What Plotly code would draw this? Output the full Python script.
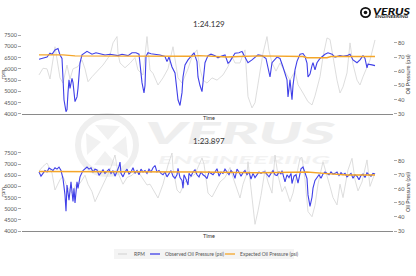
import base64
import plotly.graph_objects as go

# ---------------- data ----------------
# Lap 1 (1:24.129)
top_rpm_t = [0, 1, 2, 2.75, 4, 4.5, 5.25, 6, 7, 7.75, 8.5, 9.75, 10.75, 11.5, 12.25, 13.25, 14.5, 16, 17.75, 18.5,
             19.5, 19.75, 20.25, 21.5, 22.75, 24, 24.75, 26, 27, 27.75, 28.5, 29.75, 31, 32.25, 33.5, 34, 34.75, 35.75,
             37.25, 38.25, 39.5, 40.25, 41, 42, 43.25, 44.5, 46, 47.25, 48.25, 49, 50.25, 51, 51.5, 52.25, 53.25, 54,
             54.75, 55.25, 56, 57, 57.5, 58.25, 59.25, 60.25, 61.5, 62.75, 64, 64.75, 66, 67.25, 68.25, 69, 70.25, 71,
             72, 72.75, 73.5, 74.5, 75.25, 76, 77, 77.75, 78.5, 79.5, 80.25, 81, 82.75, 84]
top_rpm = [5730, 6025, 6000, 5550, 6980, 6390, 5600, 5370, 6170, 5550, 6000, 6100, 6390, 6000, 5430, 5650, 5875, 6170,
           6610, 7150, 7430, 6700, 6260, 6050, 6250, 6500, 5950, 5730, 7430, 5950, 5800, 5285, 5600, 6000, 6980, 6400,
           5600, 5370, 6000, 6540, 6840, 6000, 5500, 5370, 5600, 5500, 5730, 6100, 6540, 6260, 6260, 6640, 6840, 4770,
           4270, 4500, 5370, 5875, 6700, 7430, 6800, 6260, 5900, 6260, 5900, 5500, 5900, 5300, 4930, 4545, 4400, 4800,
           5650, 6540, 7370, 7300, 6540, 5500, 4930, 5200, 5820, 7150, 6200, 5500, 5285, 5650, 6390, 7280]

top_obs_t = [0, 1, 2, 2.75, 3.25, 4, 4.75, 5.25, 5.75, 6, 6.25, 6.75, 7, 7.25, 7.5, 7.75, 8.25, 8.5, 9, 9.5, 9.75,
             10.25, 10.75, 12, 12.75, 13.25, 14.25, 15.25, 16.5, 17.75, 19, 19.75, 20.75, 21.5, 22.25, 23.25, 24.25,
             25, 25.25, 25.75, 26.25, 26.5, 26.75, 27.25, 28, 29, 30.25, 31.5, 32, 32.5, 33.25, 34, 34.5, 34.75, 35.25,
             35.75, 36, 36.5, 37.25, 38.25, 38.75, 39.5, 39.75, 40.25, 40.75, 41, 41.5, 42.25, 43, 44, 44.75, 45.5,
             46.5, 47.25, 47.75, 49, 50, 50.75, 51.5, 52.25, 53.25, 54.75, 55.75, 56.75, 57.75, 58.25, 59.5, 60.25, 61,
             62, 62.25, 62.75, 63.25, 63.5, 64, 64.5, 65.25, 66, 66.5, 67, 67.25, 67.75, 68.25, 68.5, 69, 69.5, 70.25,
             71.5, 72.25, 73.25, 74, 75.25, 76, 77, 77.75, 78.5, 79.5, 80.25, 81, 81.5, 82, 82.25, 83.25, 84]
top_obs = [68.5, 69, 70, 72.7, 72, 75, 76, 71.5, 69, 55, 40, 31.6, 33, 45, 54, 48, 55, 52, 38.7, 42, 48,
           66, 71.5, 74, 72.5, 72, 73, 72.5, 71.5, 72, 71.5, 71, 72, 71.5, 71, 73, 73,
           72, 65.7, 52, 44.8, 50, 70.4, 73, 72.3, 72, 71.5, 70.4, 66.8, 70, 63, 58.8, 48, 40, 36,
           45, 56, 64.5, 68, 71.5, 73, 66.8, 56, 50, 45.7, 52, 66, 71, 72, 71, 69.5, 70.5,
           71.5, 65.7, 67, 72.7, 73, 74, 70.4, 66, 68, 71.5, 71, 69, 56, 66, 70, 69, 63,
           54, 42, 54, 40, 50, 61, 67, 72, 72.5, 70.4, 65.7, 56, 58, 64, 66, 61, 66, 69,
           72, 73, 72, 70, 71, 70.5, 71, 72, 68, 66, 68, 71, 69, 62.4, 65, 64.5, 64]

top_exp_t = [0, 6, 9, 26, 34, 38, 40, 44, 47, 50, 55, 66, 67, 72, 73, 84]
top_exp = [71.5, 71.5, 70.8, 70.8, 70.4, 70.6, 71.0, 70.6, 70.0, 70.4, 70.8, 70.4, 69.5, 69.5, 70.4, 70.4]

# Lap 2 (1:23.897)
bot_rpm_t = [0, 1, 2, 3.25, 4, 5.25, 6, 7, 8.25, 9.25, 10.25, 11.5, 12.25, 13.25, 14, 14.75, 16, 16.75, 17.75, 19,
             19.75, 21, 22, 23.25, 24.5, 25.75, 27, 27.75, 29, 29.75, 31, 32.25, 33.25, 33.5, 34.5, 35.25, 36.5, 37.75,
             39, 39.75, 40.75, 41.25, 42.25, 43.25, 44, 45.25, 46.5, 47.75, 48.5, 49.75, 50.25, 51, 52, 52.25, 53.25,
             53.5, 54, 54.75, 55.5, 56.5, 57.25, 58.25, 59, 59.75, 60.75, 61.5, 62.75, 63.5, 64.5, 65.25, 65.75, 66.5,
             67.25, 68.25, 69, 69.75, 71, 72, 72.75, 73.5, 74.5, 75.25, 76, 77.25, 78.25, 79, 79.75, 80.75, 82, 82.75, 84]
bot_rpm = [6690, 6900, 7050, 6600, 5840, 6300, 6450, 6000, 5700, 6100, 6140, 6500, 6100, 5765, 5315, 5600, 6050, 6400,
           6740, 7410, 6600, 6100, 6400, 6500, 6740, 6400, 6065, 6100, 5700, 5480, 6100, 6960, 7500, 6800, 5840, 5700,
           6200, 6400, 6550, 6830, 7280, 7000, 5700, 5525, 5800, 6200, 6400, 6850, 6400, 5700, 5480, 6100, 6600, 7110,
           5315, 4870, 4300, 4900, 5600, 6740, 6200, 5700, 7410, 6500, 5765, 6000, 5315, 5700, 6600, 7260, 7300, 6300,
           4870, 4640, 5150, 6100, 7110, 6400, 6000, 5500, 5170, 6100, 5500, 6740, 7260, 6300, 5800, 6200, 7190, 6000,
           6600]

bot_obs_t = [0, 0.5, 1, 1.5, 2, 2.5, 3, 3.5, 4, 4.5, 5, 5.5, 6, 6.5, 6.75, 7, 7.5, 8, 8.25, 8.5, 8.75, 9, 9.5,
             9.75, 10.25, 11, 12, 12.5, 13, 13.5, 14, 14.5, 15, 15.5, 16, 16.5, 17, 17.5, 18, 18.5, 19, 19.5, 20,
             20.25, 20.5, 21, 21.5, 22, 22.5, 23, 23.5, 24, 24.5, 25, 25.5, 26, 26.5, 27, 27.5, 28, 28.5, 29, 29.5,
             30, 30.5, 31, 31.5, 32, 32.5, 33, 33.5, 34, 34.5, 34.75, 35.25, 35.75, 36, 36.25, 36.75, 37.25, 37.5, 38,
             38.5, 39, 39.5, 40, 40.5, 41, 41.5, 42, 42.5, 43, 43.5, 44, 44.5, 45, 45.5, 46, 46.5, 47, 47.5, 48,
             48.5, 49, 49.5, 50, 50.5, 51, 51.5, 52, 52.5, 53, 53.5, 54, 54.5, 55, 55.5, 56, 56.5, 57, 57.5, 58,
             58.5, 59, 59.5, 60, 60.5, 60.75, 61.25, 61.5, 62, 62.5, 63, 63.25, 63.75, 64.25, 64.75, 65, 65.5, 66,
             66.5, 67, 67.25, 67.75, 68.25, 68.5, 69, 69.5, 70, 70.5, 71, 71.5, 72, 72.5, 73, 73.5, 74, 74.5, 75,
             75.5, 76, 76.5, 77, 77.5, 78, 78.5, 79, 79.5, 80, 80.5, 81, 81.5, 82, 82.5, 83, 83.5, 84]
bot_obs = [72, 69, 71, 73, 72, 74.8, 74, 73, 75, 74, 75.5, 73, 67.3, 55.7, 44, 62.7, 52, 65, 58, 51, 60.3, 50, 65,
           60.3, 68.5, 73, 75.5, 74, 75, 72, 74, 73.5, 69.6, 72, 73.5, 71, 72.5, 74, 71, 73, 69, 72, 76,
           79, 71, 68.5, 72, 74, 70.5, 72, 75, 71, 73, 70, 74, 72, 73, 71, 74, 72, 75, 76.6, 72,
           73, 71, 70, 72, 68.5, 71, 73, 69, 67.5, 70, 74.5, 68, 66, 60.5, 70, 67, 62.7, 71, 69,
           72, 73.5, 70, 68.5, 72, 70, 69, 67.3, 72, 71, 70, 72, 74.3, 69, 72, 71, 74, 72, 70, 73,
           71.5, 67.5, 74, 72, 69, 71.5, 73, 70, 72, 67, 71, 68, 70.5, 72, 71, 72, 72, 70, 68.5, 71,
           73, 70, 69.5, 72, 70.5, 73, 68, 65, 70, 68, 71, 63.8, 69, 70, 64, 68, 74.3, 75.5,
           72, 67.3, 55.7, 47.5, 54, 60.5, 66, 68, 70, 67.5, 70.5, 72, 71, 70, 72, 70.5, 71, 72, 69.5,
           71.5, 70, 71, 68.5, 70, 71, 67.5, 70, 69, 66.5, 69.5, 70.5, 68, 71.5, 70, 69, 71, 70.5]

bot_exp_t = [0, 20, 40, 55, 62, 67, 72, 77, 84]
bot_exp = [72.3, 72.3, 72.0, 71.4, 71.8, 72.0, 70.8, 69.8, 69.8]

rpm_ticks = [4000, 4500, 5000, 5500, 6000, 6500, 7000, 7500]
psi_ticks = [30, 40, 50, 60, 70, 80]
titles = ["1:24.129", "1:23.897"]
legend_labels = ["RPM", "Observed Oil Pressure (psi)", "Expected Oil Pressure (psi)"]

# ---------------- styles ----------------
FONT = "Lato"
C_RPM = "#d9d9d9"
C_OBS = "#4040e8"
C_EXP = "#f4a62a"
TICKC = "#555555"

fig = go.Figure()

def add_lap(xa, ya_l, ya_r, rpm_t, rpm, obs_t, obs, exp_t, exp):
    fig.add_trace(go.Scatter(x=rpm_t, y=rpm, mode="lines", line=dict(color=C_RPM, width=0.9),
                             xaxis=xa, yaxis=ya_l, showlegend=False, hoverinfo="skip"))
    fig.add_trace(go.Scatter(x=obs_t, y=obs, mode="lines", line=dict(color=C_OBS, width=1.1),
                             xaxis=xa, yaxis=ya_r, showlegend=False, hoverinfo="skip"))
    fig.add_trace(go.Scatter(x=exp_t, y=exp, mode="lines", line=dict(color=C_EXP, width=1.4),
                             xaxis=xa, yaxis=ya_r, showlegend=False, hoverinfo="skip"))

add_lap("x", "y", "y2", top_rpm_t, top_rpm, top_obs_t, top_obs, top_exp_t, top_exp)
add_lap("x2", "y3", "y4", bot_rpm_t, bot_rpm, bot_obs_t, bot_obs, bot_exp_t, bot_exp)

XR = [-4.25, 88.5]
xa = dict(range=XR, showticklabels=False, showline=True, linecolor="#8a8a8a", linewidth=1.3,
          ticks="", showgrid=False, zeroline=False, automargin=False)
yl = dict(range=[4000, 7500], tickvals=rpm_ticks, ticks="outside", ticklen=3, tickcolor="#aaaaaa", tickwidth=0.8,
          tickfont=dict(size=5.5, color=TICKC), showgrid=False, zeroline=False, showline=False, automargin=False,
          title=dict(text="rpm", font=dict(size=5.5, color="#333"), standoff=1))
yr = dict(range=[30, 85.5], tickvals=psi_ticks, ticks="outside", ticklen=3, tickcolor="#aaaaaa", tickwidth=0.8,
          tickfont=dict(size=5.5, color=TICKC), showgrid=False, zeroline=False, showline=False, side="right",
          automargin=False, title=dict(text="Oil Pressure (psi)", font=dict(size=5.5, color="#333"), standoff=1))

TOPD = [0.597, 1.0]
BOTD = [0.0, 0.398]
fig.update_layout(
    template="none",
    width=416, height=276, autosize=False,
    margin=dict(l=22, r=23, t=35, b=45),
    paper_bgcolor="white", plot_bgcolor="rgba(0,0,0,0)",
    font=dict(family=FONT, color="#444"),
    showlegend=False,
    xaxis=dict(xa, domain=[0, 1], anchor="y"),
    yaxis=dict(yl, domain=TOPD, anchor="x"),
    yaxis2=dict(yr, domain=TOPD, anchor="x", overlaying="y"),
    xaxis2=dict(xa, domain=[0, 1], anchor="y3"),
    yaxis3=dict(yl, domain=BOTD, anchor="x2"),
    yaxis4=dict(yr, domain=BOTD, anchor="x2", overlaying="y3"),
)

ann = []
for title, ty, timey in [(titles[0], 1.02, 0.579), (titles[1], 0.423, -0.026)]:
    ann.append(dict(text=title, x=0.503, y=ty, xref="paper", yref="paper", showarrow=False,
                    font=dict(size=8, color="#333"), xanchor="center", yanchor="bottom"))
    ann.append(dict(text="Time", x=0.503, y=timey, xref="paper", yref="paper", showarrow=False,
                    font=dict(size=5.5, color="#333"), xanchor="center", yanchor="middle"))

# manual legend
def px2x(px):
    return (px - 22) / 371.0

def py2y(py):
    return (231 - py) / 196.0

shapes = [dict(type="rect", xref="paper", yref="paper", x0=px2x(114), x1=px2x(294), y0=py2y(259), y1=py2y(249),
               fillcolor="#f4f4f4", line=dict(width=0), layer="below")]
leg_items = [(118, 127, 132, C_RPM), (150, 160, 163, C_OBS), (225, 235, 238, C_EXP)]
for (l0, l1, tx, col), lab in zip(leg_items, legend_labels):
    shapes.append(dict(type="line", xref="paper", yref="paper", x0=px2x(l0), x1=px2x(l1),
                       y0=py2y(254), y1=py2y(254), line=dict(color=col, width=1.3)))
    ann.append(dict(text=lab, x=px2x(tx), y=py2y(254), xref="paper", yref="paper", showarrow=False,
                    xanchor="left", yanchor="middle", font=dict(size=5, color="#555")))

fig.update_layout(annotations=ann, shapes=shapes)

# logo + watermark as an svg image behind everything
svg = """<svg xmlns='http://www.w3.org/2000/svg' width='416' height='276' viewBox='0 0 416 276'>
<g fill='none' stroke='#efefef' stroke-width='6'>
<circle cx='107' cy='145' r='29'/>
</g>
<g fill='#f1f1f1'>
<polygon points='95,125 120,126 108,140'/>
<polygon points='126,136 128,158 112,148'/>
<polygon points='118,166 94,165 105,151'/>
<polygon points='87,155 86,133 101,142'/>
</g>
<text x='145' y='144' font-family='Lato, DejaVu Sans' font-weight='900' font-style='italic' font-size='31'
 fill='#eeeeee' textLength='190' lengthAdjust='spacingAndGlyphs'>VERUS</text>
<text x='158' y='164' font-family='Lato, DejaVu Sans' font-weight='700' font-style='italic' font-size='12'
 fill='#f2f2f2' textLength='172' lengthAdjust='spacingAndGlyphs'>ENGINEERING</text>
<circle cx='365.5' cy='12.5' r='4.6' fill='none' stroke='#111' stroke-width='1.8'/>
<circle cx='365.5' cy='12.5' r='1.8' fill='#111'/>
<text x='373' y='14.6' font-family='Lato, DejaVu Sans' font-weight='900' font-style='italic' font-size='9.5'
 fill='#111' textLength='37' lengthAdjust='spacingAndGlyphs'>VERUS</text>
<text x='375' y='18.3' font-family='Lato, DejaVu Sans' font-weight='700' font-style='italic' font-size='3.4'
 fill='#222' textLength='33' lengthAdjust='spacingAndGlyphs'>ENGINEERING</text>
</svg>"""
src = "data:image/svg+xml;base64," + base64.b64encode(svg.encode()).decode()
fig.add_layout_image(dict(source=src, xref="paper", yref="paper", x=px2x(0), y=py2y(0),
                          sizex=416 / 371.0, sizey=276 / 196.0, xanchor="left", yanchor="top",
                          sizing="stretch", layer="below"))

fig.write_html("out.html")
